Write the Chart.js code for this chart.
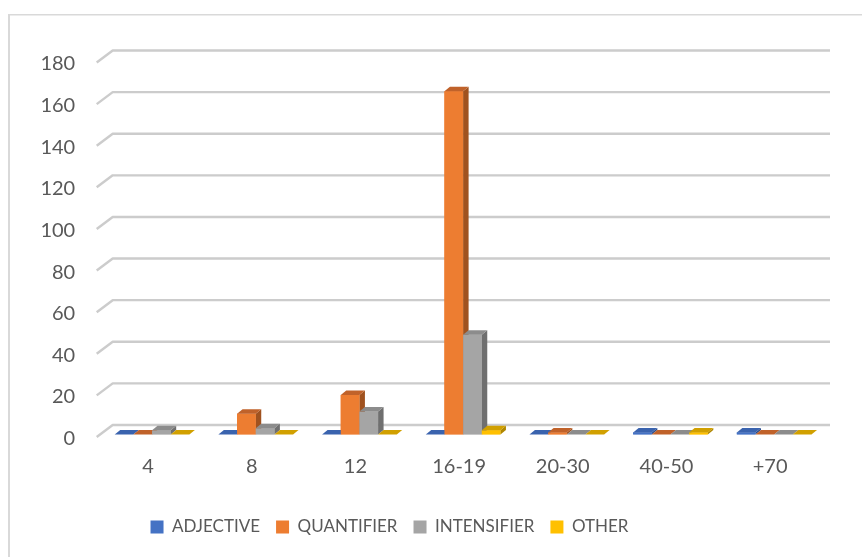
<!DOCTYPE html>
<html>
<head>
<meta charset="utf-8">
<script src="https://cdn.jsdelivr.net/npm/chart.js@4/dist/chart.umd.min.js"></script>
<style>
  html, body { margin: 0; padding: 0; background: #ffffff; }
  canvas { display: block; }
</style>
</head>
<body>
<canvas id="chart" width="862" height="557"></canvas>
<script>
// Age groups and counts per word class
const categories  = ['4', '8', '12', '16-19', '20-30', '40-50', '+70'];
const seriesNames = ['ADJECTIVE', 'QUANTIFIER', 'INTENSIFIER', 'OTHER'];
const adjective   = [0, 0, 0, 0, 0, 1, 1];
const quantifier  = [0, 10, 19, 165, 1, 0, 0];
const intensifier = [2, 3, 11, 48, 0, 0, 0];
const other       = [0, 0, 0, 2, 0, 1, 0];
const yTicks      = [0, 20, 40, 60, 80, 100, 120, 140, 160, 180];

// Face shades for each series: front, top, right side
const shades = [
  { front: '#4472C4', top: '#3A63AE', side: '#2C4D8B' },
  { front: '#ED7D31', top: '#C0622A', side: '#A0521F' },
  { front: '#A5A5A5', top: '#8C8C8C', side: '#6F6F6F' },
  { front: '#FFC000', top: '#D1A000', side: '#AF8600' }
];

const DEPTH_X = 5.5, DEPTH_Y = -4.5;      // bar depth projection
const WALL_X = 16, WALL_Y = -12;          // floor depth from front edge to back wall
const TEXT = '#595959';
const GRID = '#CCCCCC';

// Outer frame of the chart object
const framePlugin = {
  id: 'frame',
  beforeDraw(chart) {
    const ctx = chart.ctx;
    ctx.save();
    ctx.fillStyle = '#ffffff';
    ctx.fillRect(0, 0, chart.width, chart.height);
    ctx.fillStyle = '#D9D9D9';
    ctx.fillRect(8, 14, 2, chart.height - 14);
    ctx.fillRect(8, 14, chart.width - 8, 1.5);
    ctx.restore();
  }
};

// Gridlines on the back wall with the slanted run along the left wall
const wallGridPlugin = {
  id: 'wallGrid',
  beforeDatasetsDraw(chart) {
    const ctx = chart.ctx;
    const y = chart.scales.y;
    const area = chart.chartArea;
    const frontX = area.left - 3.5;
    ctx.save();
    ctx.strokeStyle = GRID;
    ctx.lineWidth = 2.4;
    ctx.lineJoin = 'round';
    yTicks.forEach(v => {
      const py = y.getPixelForValue(v) + 2.5;
      ctx.beginPath();
      ctx.moveTo(frontX, py);
      ctx.lineTo(frontX + WALL_X, py + WALL_Y);
      ctx.lineTo(830, py + WALL_Y);
      ctx.stroke();
    });
    ctx.restore();
  }
};

// Extrudes each column: front, top and right-hand side faces
const columnsPlugin = {
  id: 'columns3d',
  afterDatasetsDraw(chart) {
    const ctx = chart.ctx;
    ctx.save();
    chart.data.datasets.forEach((ds, di) => {
      const meta = chart.getDatasetMeta(di);
      if (meta.hidden) return;
      const sh = shades[di];
      meta.data.forEach(bar => {
        const { x, y, base, width } = bar.getProps(['x', 'y', 'base', 'width'], true);
        const L = x - width / 2, R = x + width / 2;
        // right side
        ctx.fillStyle = sh.side;
        ctx.beginPath();
        ctx.moveTo(R, y);
        ctx.lineTo(R + DEPTH_X, y + DEPTH_Y);
        ctx.lineTo(R + DEPTH_X, base + DEPTH_Y);
        ctx.lineTo(R, base);
        ctx.closePath();
        ctx.fill();
        // front
        ctx.fillStyle = sh.front;
        ctx.fillRect(L, y, width, base - y);
        // top
        ctx.fillStyle = sh.top;
        ctx.beginPath();
        ctx.moveTo(L, y);
        ctx.lineTo(R, y);
        ctx.lineTo(R + DEPTH_X, y + DEPTH_Y);
        ctx.lineTo(L + DEPTH_X, y + DEPTH_Y);
        ctx.closePath();
        ctx.fill();
      });
    });
    ctx.restore();
  }
};

// Centre the legend under the front of the floor
const legendShiftPlugin = {
  id: 'legendShift',
  afterLayout(chart) {
    const lg = chart.legend;
    if (!lg) return;
    const shift = 389.5 - (lg.left + lg.right) / 2;
    lg.left += shift;
    lg.right += shift;
  }
};

const values = [adjective, quantifier, intensifier, other];

new Chart(document.getElementById('chart'), {
  type: 'bar',
  data: {
    labels: categories,
    datasets: seriesNames.map((name, i) => ({
      label: name,
      data: values[i],
      backgroundColor: shades[i].front,
      borderWidth: 0,
      barPercentage: 1,
      categoryPercentage: 0.72
    }))
  },
  options: {
    responsive: false,
    devicePixelRatio: 1,
    animation: false,
    layout: { padding: { left: 0, right: 36, top: 60, bottom: 11.5 } },
    scales: {
      x: {
        grid: { display: false, drawTicks: false },
        border: { display: false },
        ticks: {
          color: TEXT,
          font: { family: 'Lato', size: 20 },
          padding: 20,
          labelOffset: -4,
          maxRotation: 0
        },
        afterFit(s) { s.height = 68; }
      },
      y: {
        min: 0,
        max: 180,
        grid: { display: false, drawTicks: false },
        border: { display: false },
        ticks: {
          stepSize: 20,
          color: TEXT,
          font: { family: 'Lato', size: 20 },
          padding: 25,
          labelOffset: 4
        },
        afterFit(s) { s.width = 100.2; }
      }
    },
    plugins: {
      legend: {
        position: 'bottom',
        labels: {
          color: TEXT,
          font: { family: 'Lato', size: 17 },
          boxWidth: 13,
          boxHeight: 13,
          padding: 16
        }
      },
      tooltip: { enabled: false }
    }
  },
  plugins: [framePlugin, wallGridPlugin, columnsPlugin, legendShiftPlugin]
});
</script>
</body>
</html>
